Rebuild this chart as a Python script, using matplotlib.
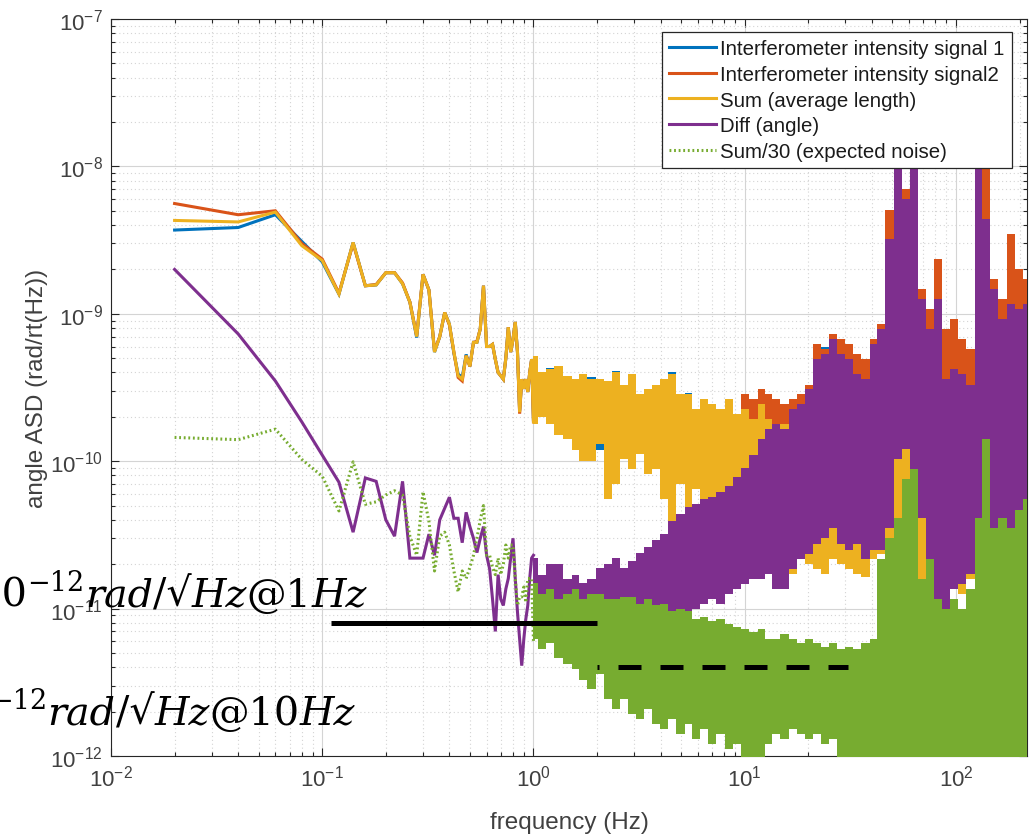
import numpy as np
import matplotlib
matplotlib.use("Agg")
import matplotlib.pyplot as plt

plt.rcParams['font.family'] = ['Liberation Sans', 'DejaVu Sans']
plt.rcParams['mathtext.default'] = 'regular'

# ---------------------------------------------------------------- data
# low-frequency bins (0.02 Hz resolution up to 1 Hz)
freq_low = np.round(np.arange(1, 51) * 0.02, 2)

sig1_low = [3.7e-9, 3.85e-9, 4.7e-9, 3.1e-9, 2.25e-9, 1.36e-9, 3.05e-9, 1.55e-9, 1.57e-9, 1.9e-9,
            1.9e-9, 1.6e-9, 1.2e-9, 6.9e-10, 1.85e-9, 1.45e-9, 5.5e-10, 7.0e-10, 1.02e-9, 8.5e-10,
            5.4e-10, 3.9e-10, 3.7e-10, 5.3e-10, 4.4e-10, 6.4e-10, 6.4e-10, 7.9e-10, 1.55e-9, 6.0e-10,
            6.0e-10, 6.2e-10, 4.9e-10, 4.0e-10, 3.8e-10, 3.6e-10, 5.0e-10, 8.1e-10, 5.5e-10, 6.7e-10,
            8.8e-10, 5.5e-10, 2.2e-10, 3.6e-10, 3.1e-10, 3.6e-10, 2.95e-10, 4.0e-10, 4.9e-10, 1.9e-10]
sig2_low = [5.6e-9, 4.7e-9, 5.0e-9, 3.0e-9, 2.35e-9, 1.38e-9, 3.0e-9, 1.55e-9, 1.58e-9, 1.9e-9,
            1.9e-9, 1.62e-9, 1.2e-9, 7.1e-10, 1.85e-9, 1.45e-9, 5.6e-10, 7.0e-10, 1.02e-9, 8.4e-10,
            5.5e-10, 3.7e-10, 3.5e-10, 5.2e-10, 4.4e-10, 6.4e-10, 6.5e-10, 7.9e-10, 1.55e-9, 6.0e-10,
            6.0e-10, 6.2e-10, 4.9e-10, 4.0e-10, 3.8e-10, 3.6e-10, 5.0e-10, 8.1e-10, 5.5e-10, 6.7e-10,
            8.8e-10, 5.5e-10, 2.1e-10, 3.6e-10, 3.1e-10, 3.6e-10, 2.95e-10, 4.0e-10, 4.9e-10, 1.85e-10]
sum_low = [4.3e-9, 4.2e-9, 4.9e-9, 2.9e-9, 2.3e-9, 1.36e-9, 3.05e-9, 1.55e-9, 1.57e-9, 1.9e-9,
           1.9e-9, 1.6e-9, 1.2e-9, 7.0e-10, 1.85e-9, 1.45e-9, 5.5e-10, 7.0e-10, 1.02e-9, 8.5e-10,
           5.5e-10, 3.8e-10, 3.6e-10, 5.2e-10, 4.4e-10, 6.4e-10, 6.4e-10, 7.9e-10, 1.55e-9, 6.0e-10,
           6.0e-10, 6.2e-10, 4.9e-10, 4.0e-10, 3.8e-10, 3.6e-10, 5.0e-10, 8.1e-10, 5.5e-10, 6.7e-10,
           8.8e-10, 5.5e-10, 2.15e-10, 3.6e-10, 3.1e-10, 3.6e-10, 2.95e-10, 4.0e-10, 4.9e-10, 1.85e-10]
diff_low = [2.0e-9, 7.3e-10, 3.5e-10, 1.85e-10, 1.1e-10, 7.2e-11, 3.3e-11, 7.7e-11, 7.3e-11, 4.0e-11,
            3.1e-11, 7.3e-11, 2.2e-11, 2.2e-11, 2.2e-11, 3.2e-11, 2.3e-11, 4.0e-11, 4.8e-11, 5.7e-11,
            4.1e-11, 4.1e-11, 2.8e-11, 4.5e-11, 3.6e-11, 3.0e-11, 2.4e-11, 3.0e-11, 3.6e-11, 2.3e-11,
            1.86e-11, 1.16e-11, 7.0e-12, 1.7e-11, 1.16e-11, 1.05e-11, 1.36e-11, 1.6e-11, 2.2e-11, 3.0e-11,
            1.6e-11, 9.5e-12, 6.2e-12, 4.1e-12, 6.2e-12, 8.5e-12, 1.05e-11, 1.6e-11, 2.2e-11, 2.3e-11]
expected_low = [1.45e-10, 1.4e-10, 1.65e-10, 1.03e-10, 7.9e-11, 4.6e-11, 9.9e-11, 5.1e-11, 5.3e-11, 5.9e-11,
                6.3e-11, 5.9e-11, 3.1e-11, 2.3e-11, 6.2e-11, 3.9e-11, 1.8e-11, 3.1e-11, 3.3e-11, 2.7e-11,
                1.8e-11, 1.3e-11, 1.8e-11, 1.6e-11, 1.9e-11, 2.3e-11, 3.0e-11, 4.0e-11, 5.0e-11, 2.3e-11,
                2.3e-11, 1.9e-11, 1.7e-11, 2.2e-11, 1.7e-11, 2.0e-11, 2.7e-11, 2.2e-11, 2.7e-11, 2.7e-11,
                1.6e-11, 1.05e-11, 1.2e-11, 1.2e-11, 1.4e-11, 1.1e-11, 1.6e-11, 1.6e-11, 1.6e-11, 6.0e-12]

# above 1 Hz the spectra are too dense to show bin by bin: lower / upper envelopes
band_freq = [1.0, 1.1, 1.2, 1.3, 1.45, 1.6, 1.7, 1.9, 2.05, 2.25,
             2.45, 2.7, 2.9, 3.2, 3.5, 3.8, 4.15, 4.5, 5.0, 5.4,
             5.9, 6.4, 7.0, 7.7, 8.4, 9.2, 10, 11, 12, 13,
             14, 15.5, 17, 18.5, 20, 22, 24, 26, 29, 31,
             34, 37, 41, 44, 48.5, 53, 58, 63, 69, 75,
             82, 90, 98, 107, 117, 128, 139, 152, 166, 182,
             198, 216]

sig1_lo = [1.9e-10, 2.1e-10, 1.9e-10, 1.6e-10, 1.5e-10, 1.25e-10, 1.05e-10, 1.05e-10, 1.2e-10, 5.8e-11,
           7.4e-11, 1.08e-10, 9.4e-11, 1.18e-10, 8.6e-11, 9.4e-11, 5.8e-11, 3.2e-11, 7.4e-11, 4.0e-11,
           6.8e-11, 5.8e-11, 5.4e-11, 4.3e-11, 4.3e-11, 3.9e-11, 3.7e-11, 3.4e-11, 3.2e-11, 2.9e-11,
           2.5e-11, 1.95e-11, 1.8e-11, 2.3e-11, 2.1e-11, 1.95e-11, 1.8e-11, 2.3e-11, 2.1e-11, 1.95e-11,
           1.8e-11, 1.7e-11, 2.3e-11, 2.5e-11, 2.3e-11, 2.3e-11, 2.5e-11, 2.9e-11, 1.3e-11, 1.32e-11,
           1.67e-11, 1.55e-11, 1.43e-11, 1.32e-11, 1.67e-11, 1.95e-11, 1.43e-11, 1.1e-11, 1.2e-11, 1.95e-11,
           2.3e-11, 2.6e-11]
sig1_hi = [5.0e-10, 3.9e-10, 4.3e-10, 4.4e-10, 3.7e-10, 3.6e-10, 3.8e-10, 3.7e-10, 3.5e-10, 3.4e-10,
           4.1e-10, 3.2e-10, 3.8e-10, 2.8e-10, 3.0e-10, 3.2e-10, 3.5e-10, 4.0e-10, 2.8e-10, 2.9e-10,
           2.2e-10, 2.6e-10, 2.4e-10, 2.2e-10, 2.6e-10, 2.05e-10, 2.2e-10, 1.9e-10, 2.4e-10, 1.9e-10,
           1.75e-10, 1.75e-10, 1.9e-10, 2.05e-10, 2.6e-10, 5.5e-10, 6.0e-10, 7.0e-10, 6.0e-10, 5.6e-10,
           5.0e-10, 4.5e-10, 6.5e-10, 8.0e-10, 4.5e-9, 1.4e-8, 6.5e-9, 1.4e-8, 1.4e-9, 1.0e-9,
           2.0e-9, 7.5e-10, 8.5e-10, 6.5e-10, 5.5e-10, 1.4e-8, 1.0e-8, 1.6e-9, 1.2e-9, 3.2e-9,
           1.9e-9, 1.6e-9]

sig2_lo = [1.9e-10, 2.1e-10, 1.9e-10, 1.6e-10, 1.5e-10, 1.3e-10, 1.05e-10, 1.1e-10, 1.4e-10, 6.0e-11,
           7.5e-11, 1.15e-10, 9.8e-11, 1.25e-10, 9.0e-11, 9.8e-11, 6.0e-11, 3.3e-11, 7.7e-11, 4.1e-11,
           7.2e-11, 6.0e-11, 5.6e-11, 4.8e-11, 4.5e-11, 4.1e-11, 3.9e-11, 3.5e-11, 3.3e-11, 3.0e-11,
           2.6e-11, 2.05e-11, 1.9e-11, 2.4e-11, 2.2e-11, 2.05e-11, 1.9e-11, 2.4e-11, 2.2e-11, 2.05e-11,
           1.9e-11, 1.8e-11, 2.4e-11, 2.6e-11, 2.4e-11, 2.4e-11, 2.6e-11, 3.0e-11, 1.5e-11, 1.4e-11,
           1.75e-11, 1.6e-11, 1.5e-11, 1.4e-11, 1.75e-11, 2.05e-11, 1.5e-11, 1.3e-11, 1.5e-11, 2.05e-11,
           2.4e-11, 2.75e-11]
sig2_hi = [5.0e-10, 3.85e-10, 4.1e-10, 4.3e-10, 3.6e-10, 3.5e-10, 3.7e-10, 3.5e-10, 3.45e-10, 3.3e-10,
           3.9e-10, 3.2e-10, 3.7e-10, 2.73e-10, 2.95e-10, 3.2e-10, 3.45e-10, 3.7e-10, 2.73e-10, 2.73e-10,
           2.16e-10, 2.52e-10, 2.33e-10, 2.16e-10, 2.52e-10, 2.0e-10, 2.86e-10, 2.64e-10, 3.1e-10, 2.86e-10,
           2.64e-10, 2.44e-10, 2.64e-10, 2.86e-10, 3.3e-10, 6.2e-10, 5.8e-10, 7.3e-10, 6.75e-10, 6.2e-10,
           5.3e-10, 4.9e-10, 6.75e-10, 8.5e-10, 5.1e-9, 1.53e-8, 7.0e-9, 1.53e-8, 1.47e-9, 1.08e-9,
           2.35e-9, 7.9e-10, 9.2e-10, 6.75e-10, 5.8e-10, 1.53e-8, 1.12e-8, 1.72e-9, 1.26e-9, 3.5e-9,
           2.0e-9, 1.72e-9]

sum_lo = [1.8e-10, 2.0e-10, 1.8e-10, 1.5e-10, 1.42e-10, 1.2e-10, 1.0e-10, 1.0e-10, 1.3e-10, 5.5e-11,
          7.0e-11, 1.03e-10, 8.9e-11, 1.12e-10, 8.2e-11, 8.9e-11, 5.5e-11, 3.0e-11, 7.0e-11, 3.75e-11,
          6.5e-11, 5.5e-11, 5.1e-11, 4.4e-11, 4.1e-11, 3.75e-11, 3.5e-11, 3.2e-11, 3.0e-11, 2.74e-11,
          2.34e-11, 1.86e-11, 1.72e-11, 2.17e-11, 2.0e-11, 1.86e-11, 1.72e-11, 2.17e-11, 2.0e-11, 1.86e-11,
          1.72e-11, 1.64e-11, 2.17e-11, 2.34e-11, 2.17e-11, 2.17e-11, 2.34e-11, 2.74e-11, 1.36e-11, 1.26e-11,
          1.59e-11, 1.47e-11, 1.36e-11, 1.26e-11, 1.59e-11, 1.86e-11, 1.36e-11, 1.16e-11, 1.36e-11, 1.86e-11,
          2.17e-11, 2.5e-11]
sum_hi = [5.2e-10, 4.0e-10, 4.2e-10, 4.4e-10, 3.8e-10, 3.6e-10, 3.9e-10, 3.6e-10, 3.6e-10, 3.5e-10,
          4.0e-10, 3.3e-10, 3.9e-10, 2.86e-10, 3.1e-10, 3.3e-10, 3.6e-10, 3.9e-10, 2.86e-10, 2.86e-10,
          2.26e-10, 2.64e-10, 2.44e-10, 2.26e-10, 2.64e-10, 2.09e-10, 2.26e-10, 1.93e-10, 2.44e-10, 1.93e-10,
          1.79e-10, 1.79e-10, 1.93e-10, 2.09e-10, 2.64e-10, 2.26e-10, 2.64e-10, 2.64e-10, 2.86e-10, 2.86e-10,
          3.1e-10, 2.64e-10, 3.6e-10, 4.9e-10, 5.8e-10, 1.26e-9, 9.2e-10, 4.9e-10, 3.1e-10, 2.64e-10,
          2.64e-10, 2.64e-10, 2.26e-10, 2.64e-10, 2.86e-10, 3.6e-10, 4.2e-10, 3.6e-10, 3.6e-10, 4.2e-10,
          4.9e-10, 4.9e-10]

diff_lo = [7.9e-12, 9.9e-12, 1.07e-11, 8.5e-12, 6.7e-12, 7.9e-12, 6.2e-12, 8.5e-12, 4.6e-12, 5.3e-12,
           3.3e-12, 4.6e-12, 6.2e-12, 7.3e-12, 7.9e-12, 7.3e-12, 7.9e-12, 8.5e-12, 9.2e-12, 8.5e-12,
           9.9e-12, 1.07e-11, 1.16e-11, 1.07e-11, 1.26e-11, 1.36e-11, 1.47e-11, 1.59e-11, 1.59e-11, 1.72e-11,
           1.36e-11, 1.36e-11, 1.86e-11, 2.17e-11, 2.34e-11, 2.74e-11, 3.0e-11, 3.5e-11, 2.74e-11, 2.5e-11,
           2.74e-11, 2.17e-11, 2.5e-11, 2.5e-11, 3.5e-11, 1.03e-10, 1.21e-10, 8.9e-11, 4.1e-11, 1.59e-11,
           8.5e-12, 7.3e-12, 1.36e-11, 1.47e-11, 1.72e-11, 1.86e-11, 1.59e-11, 1.26e-11, 1.16e-11, 1.36e-11,
           2.74e-11, 3.0e-11]
diff_hi = [2.2e-11, 1.7e-11, 2.0e-11, 2.0e-11, 1.6e-11, 1.7e-11, 1.5e-11, 1.6e-11, 1.9e-11, 2.0e-11,
           2.2e-11, 1.9e-11, 2.1e-11, 2.4e-11, 2.6e-11, 2.9e-11, 3.2e-11, 3.9e-11, 4.4e-11, 4.9e-11,
           5.1e-11, 5.5e-11, 5.7e-11, 6.2e-11, 6.8e-11, 7.8e-11, 9.0e-11, 1.1e-10, 1.42e-10, 1.65e-10,
           1.79e-10, 1.65e-10, 2.26e-10, 2.44e-10, 3.1e-10, 4.9e-10, 5.3e-10, 6.75e-10, 5.3e-10, 4.9e-10,
           3.9e-10, 3.6e-10, 6.2e-10, 7.9e-10, 3.2e-9, 1.31e-8, 6.0e-9, 1.31e-8, 1.26e-9, 7.9e-10,
           1.26e-9, 3.6e-10, 4.2e-10, 3.9e-10, 3.3e-10, 1.31e-8, 4.4e-9, 1.47e-9, 9.2e-10, 1.16e-9,
           1.08e-9, 1.16e-9]

expected_lo = [6.2e-12, 5.3e-12, 5.8e-12, 4.6e-12, 4.2e-12, 3.9e-12, 3.3e-12, 2.85e-12, 3.6e-12, 2.44e-12,
               2.09e-12, 2.44e-12, 1.93e-12, 1.78e-12, 2.09e-12, 1.65e-12, 1.52e-12, 1.78e-12, 1.41e-12, 1.65e-12,
               1.3e-12, 1.52e-12, 1.21e-12, 1.41e-12, 1.11e-12, 1.21e-12, 9.5e-13, 8.8e-13, 8.2e-13, 1.21e-12,
               1.41e-12, 1.3e-12, 1.52e-12, 1.41e-12, 1.3e-12, 1.41e-12, 1.21e-12, 1.3e-12, 9.5e-13, 8.2e-13,
               7e-13, 7e-13, 7e-13, 7e-13, 7e-13, 7e-13, 7e-13, 7e-13, 7e-13, 7e-13,
               7e-13, 7e-13, 7e-13, 7e-13, 7e-13, 7e-13, 7e-13, 7e-13, 7e-13, 7e-13,
               7e-13, 7e-13]
expected_hi = [1.5e-11, 1.25e-11, 1.36e-11, 1.16e-11, 1.26e-11, 1.36e-11, 1.16e-11, 1.26e-11, 1.26e-11, 1.16e-11,
               1.16e-11, 1.2e-11, 1.2e-11, 1.07e-11, 1.16e-11, 1.05e-11, 1.07e-11, 9.6e-12, 9.9e-12, 9.6e-12,
               8.5e-12, 8.8e-12, 8.2e-12, 8.5e-12, 7.9e-12, 7.5e-12, 7.3e-12, 6.9e-12, 7.3e-12, 6.2e-12,
               6.2e-12, 6.7e-12, 6.2e-12, 5.8e-12, 6.2e-12, 5.8e-12, 5.5e-12, 5.8e-12, 5.3e-12, 5.5e-12,
               5.3e-12, 5.8e-12, 6.2e-12, 2.17e-11, 3.0e-11, 4.1e-11, 7.6e-11, 8.9e-11, 1.59e-11, 2.17e-11,
               1.16e-11, 9.9e-12, 1.16e-11, 9.9e-12, 1.36e-11, 4.1e-11, 1.42e-10, 3.5e-11, 4.1e-11, 3.5e-11,
               4.7e-11, 5.5e-11]

# requirement levels marked on the plot
req_1hz_level = 8e-12
req_1hz_span = [0.11, 2.0]
req_10hz_level = 4e-12
req_10hz_span = [2.0, 31.0]

series_names = ['Interferometer intensity signal 1', 'Interferometer intensity signal2',
                'Sum (average length)', 'Diff (angle)', 'Sum/30 (expected noise)']
colors = ['#0072BD', '#D95319', '#EDB120', '#7E2F8E', '#77AC30']

# ---------------------------------------------------------------- figure
W, H = 1033, 837
fig = plt.figure(figsize=(W / 100, H / 100), dpi=100)
ax = fig.add_axes([111 / W, 80 / H, 916 / W, 737 / H])
ax.set_xscale('log')
ax.set_yscale('log')

low_series = [sig1_low, sig2_low, sum_low, diff_low, expected_low]
bands = [(sig1_lo, sig1_hi), (sig2_lo, sig2_hi), (sum_lo, sum_hi),
         (diff_lo, diff_hi), (expected_lo, expected_hi)]
lw = 2.2
for i, (name, col, low, (lo, hi)) in enumerate(zip(series_names, colors, low_series, bands)):
    ls = (0, (0.6, 0.9)) if i == 4 else '-'
    ax.plot(freq_low, low, color=col, lw=lw, ls=ls, label=name, zorder=3 + i,
            solid_joinstyle='miter')
    ax.fill_between(band_freq, lo, hi, step='mid', color=col, lw=0, zorder=3 + i)

# requirement lines
ax.plot(req_1hz_span, [req_1hz_level] * 2, color='black', lw=3.6, zorder=20,
        solid_capstyle='butt')
ax.plot(req_10hz_span, [req_10hz_level] * 2, color='black', lw=3.6, zorder=20,
        ls=(4.2, (4.6, 3.8)), dash_capstyle='butt')

ax.set_xlim(0.01, 217)
ax.set_ylim(1e-12, 1e-7)

xt = [1e-2, 1e-1, 1e0, 1e1, 1e2]
ax.set_xticks(xt)
ax.set_xticklabels([r'$10^{-2}$', r'$10^{-1}$', r'$10^{0}$', r'$10^{1}$', r'$10^{2}$'])
yt = [1e-12, 1e-11, 1e-10, 1e-9, 1e-8, 1e-7]
ax.set_yticks(yt)
ylabs = ax.set_yticklabels([r'$10^{-12}$', r'$10^{-11}$', r'$10^{-10}$', r'$10^{-9}$',
                            r'$10^{-8}$', r'$10^{-7}$'])
ylabs[1].set_color('#b8b8b8')

ax.tick_params(which='both', direction='in', top=True, right=True,
               labelsize=16, labelcolor='#404040', color='#262626', width=0.8)
ax.tick_params(which='major', length=5.5, pad=6)
ax.tick_params(which='minor', length=3)
for s in ax.spines.values():
    s.set_color('#262626')
    s.set_linewidth(0.8)

ax.set_axisbelow(True)
ax.grid(True, which='major', color='#d4d4d4', lw=0.8, ls='-')
ax.grid(True, which='minor', color='#d4d4d4', lw=0.8, ls=(0, (1, 2.5)))

ax.set_xlabel('frequency (Hz)', fontsize=17.5, color='#404040', labelpad=15)
ax.set_ylabel('angle ASD (rad/rt(Hz))', fontsize=17.5, color='#404040', labelpad=1)

leg = ax.legend(loc='upper right', bbox_to_anchor=(1012 / W, 1 - 33 / H),
                bbox_transform=fig.transFigure, borderaxespad=0, fontsize=14.7,
                frameon=True, fancybox=False, framealpha=1, edgecolor='#262626',
                handlelength=2.3, handletextpad=0.2, labelspacing=0.33, borderpad=0.35)
leg.get_frame().set_linewidth(0.9)
leg.set_zorder(30)
for t in leg.get_texts():
    t.set_color('#1a1a1a')


# requirement annotations: equation-style text assembled piece by piece,
# right-aligned at (x_right, baseline) given in pixels from the top-left corner
def equation_text(x_right, baseline, pieces, size=28.5, sup_size=19.5, sup_raise=16):
    renderer = fig.canvas.get_renderer()
    items = []
    for s, kind in pieces:
        fs = sup_size if kind == 'sup' else size
        style = 'italic' if kind == 'it' else 'normal'
        t = fig.text(0, 0, s, fontsize=fs, style=style, family='DejaVu Serif',
                     ha='left', va='baseline', color='black', zorder=40)
        items.append((t, kind))
    widths = [t.get_window_extent(renderer).width for t, _ in items]
    x = x_right - sum(widths)
    for (t, kind), w in zip(items, widths):
        y = baseline - (sup_raise if kind == 'sup' else 0)
        t.set_position((x / W, 1 - y / H))
        x += w


equation_text(367, 607, [('8×10', 'rm'), ('−12', 'sup'), ('rad', 'it'), ('/√', 'rm'),
                         ('Hz', 'it'), ('@1', 'rm'), ('Hz', 'it')])
equation_text(355, 725, [('4×10', 'rm'), ('−12', 'sup'), ('rad', 'it'), ('/√', 'rm'),
                         ('Hz', 'it'), ('@10', 'rm'), ('Hz', 'it')])

fig.savefig('out.png', dpi=100)
